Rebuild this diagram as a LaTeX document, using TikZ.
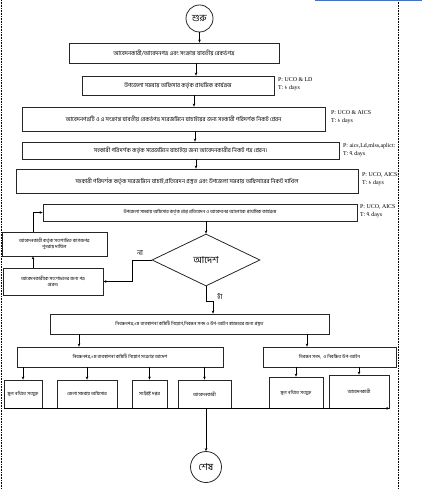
\documentclass[tikz,border=0pt]{standalone}
\usepackage{fontspec}
\newfontfamily\bn[Script=Bengali]{Hind Siliguri}
\newfontfamily\lat{Liberation Serif}
\usetikzlibrary{shapes.geometric,arrows.meta}
\begin{document}
\begin{tikzpicture}[x=1pt,y=-1pt,
  box/.style={draw=black!85,line width=0.8pt,inner sep=0pt,align=center,font=\bn\fontsize{5.8}{7}\selectfont},
  sbox/.style={box,font=\bn\fontsize{4.7}{6.5}\selectfont},
  arr/.style={line width=0.6pt,-{Stealth[length=3pt,width=2.6pt]}},
  lab/.style={anchor=north west,inner sep=0pt,align=left,font=\lat\fontsize{5.9}{8}\selectfont},
  term/.style={draw=black!85,line width=0.8pt,circle,inner sep=0pt,font=\bn\fontsize{9.5}{10}\selectfont}]
\useasboundingbox (0,0) rectangle (422,489);
% frame lines
\draw[line width=0.8pt,dash pattern=on 0.8pt off 0.8pt] (1.5,0) -- (1.5,489);
\draw[line width=0.8pt,dash pattern=on 0.8pt off 0.8pt] (398.5,0) -- (398.5,489);
\draw[line width=2pt,color={rgb,255:red,68;green,114;blue,196}] (315,0) -- (422,0);

\node[term,minimum size=27pt] (start) at (199.5,18.5) {শুরু};
\node[box,minimum width=210pt,minimum height=20pt] (b1) at (174,53) {আবেদনকারী/আবেদনপত্র এবং সংক্রান্ত যাবতীয় রেকর্ডপত্র};
\node[box,minimum width=192pt,minimum height=19pt] (b2) at (178,85.5) {উপজেলা সমবায় অফিসার কর্তৃক প্রাথমিক কার্যক্রম};
\node[box,minimum width=303pt,minimum height=24pt] (b3) at (173.5,119) {আবেদনপত্রটি ও এ সংক্রান্ত যাবতীয় রেকর্ডপত্র সরেজমিনে যাচাইয়ের জন্য সহকারী পরিদর্শক নিকট প্রেরন};
\node[box,minimum width=317pt,minimum height=17pt] (b4) at (180.5,150.5) {সহকারী পরিদর্শক কর্তৃক সরেজমিনে যাচাইয়ে জন্য আবেদনকারীর নিকট পত্র প্রেরন।};
\node[box,minimum width=342pt,minimum height=24pt] (b5) at (187,181) {সহকারী পরিদর্শক কর্তৃক সরেজমিনে যাচাই,প্রতিবেদন প্রস্তুত এবং উপজেলা সমবায় অফিসারের নিকট দাখিল};
\node[sbox,minimum width=314pt,minimum height=17pt] (b6) at (200,212.5) {উপজেলা সমবায় অফিসার কর্তৃক প্রাপ্ত প্রতিবেদন ও আবেদনের আলোকে প্রাথমিক কার্যক্রম};
\node[sbox,minimum width=105pt,minimum height=24pt] (b7) at (54.5,244) {আবেদনকারী কর্তৃক সংশোধিত কাগজপত্র\\পুনরায় দাখিল};
\node[sbox,minimum width=100pt,minimum height=27pt] (b8) at (53,281.5) {আবেদনকারীকে সংশোধনের জন্য পত্র\\প্রেরন।};
\node[draw=black!85,line width=0.8pt,diamond,inner sep=0pt,minimum width=108pt,minimum height=52pt,font=\bn\fontsize{9.5}{10}\selectfont] (dia) at (206,260) {আদেশ};
\node[sbox,minimum width=279pt,minimum height=20pt] (b9) at (189.5,324) {নিবন্ধনপত্র,১ম ব্যবস্থাপনা কমিটি নিয়োগ,নিবন্ধন সনদ ও উপ-আইন স্বাক্ষরের জন্য প্রস্তুত};
\node[sbox,minimum width=206pt,minimum height=20pt] (b10) at (120,357) {নিবন্ধনপত্র,১ম ব্যবস্থাপনা কমিটি নিয়োগ সংক্রান্ত আদেশ};
\node[sbox,minimum width=133pt,minimum height=20pt] (b11) at (329.5,357) {নিবন্ধন সনদ,\ \ ও নিবন্ধিত উপ-আইন};
\node[sbox,minimum width=38pt,minimum height=28pt] (c1) at (23,394) {মূল নথিতে সংযুক্ত};
\node[sbox,minimum width=60pt,minimum height=28pt] (c2) at (87,394) {জেলা সমবায় অফিসার};
\node[sbox,minimum width=35pt,minimum height=28pt] (c3) at (149.5,394) {সংশ্লিষ্ট দপ্তর};
\node[sbox,minimum width=53pt,minimum height=28pt] (c4) at (204.5,394) {আবেদনকারী};
\node[sbox,minimum width=54pt,minimum height=31pt] (c5) at (296,392.5) {মূল নথিতে সংযুক্ত};
\node[sbox,minimum width=60pt,minimum height=33pt] (c6) at (359,391.5) {আবেদনকারী};
\node[term,minimum size=31pt] (fin) at (206,467) {শেষ};

% labels
\node[lab] (l2) at (278,77) {P: UCO \& LD\\T: {\bn ১} days};
\node[lab] (l3) at (331,110) {P: UCO \& AICS\\T: {\bn ১} days};
\node[lab] (l4) at (343,143) {P: aics,Ld,mlss,aplict:\\T: {\bn ৭} days};
\node[lab] (l5) at (362,172) {P: UCO, AICS:\\T: {\bn ১} days};
\node[lab] (l6) at (360,204) {P: UCO, AICS\\T: {\bn ৭} days};
\node[inner sep=0pt,font=\bn\fontsize{7}{8}\selectfont] (no) at (140,253) {না};
\node[inner sep=0pt,font=\bn\fontsize{7}{8}\selectfont] (yes) at (220,297) {হাঁ};

% connectors
\draw[arr] (start) -- (start |- b1.north);
\draw[arr] ([xshift=22pt]b1.south) -- ([xshift=22pt]b1.south |- b2.north);
\draw[arr] ([xshift=16pt]b2.south) -- ([xshift=16pt]b2.south |- b3.north);
\draw[arr] ([xshift=21.5pt]b3.south) -- ([xshift=21.5pt]b3.south |- b4.north);
\draw[arr] ([xshift=15.5pt]b4.south) -- ([xshift=15.5pt]b4.south |- b5.north);
\draw[arr] (b6.south -| dia.north) -- (dia.north);
\draw[arr] (dia.west) -- ++(-19,0) |- (b8.east);
\draw[arr] ([xshift=-20pt]b8.north) -- ([xshift=-20pt]b8.north |- b7.south);
\draw[arr] ([xshift=-21.5pt]b7.north) |- (b6.west);
\draw[arr] (dia.south) -- ++(0,15) -| ([xshift=23.5pt]b9.north);
\draw[arr] ([xshift=-110.5pt]b9.south) -- ([xshift=-110.5pt]b9.south |- b10.north);
\draw[arr] ([xshift=117.5pt]b9.south) -- ([xshift=117.5pt]b9.south |- b11.north);
\foreach \c in {c1,c2,c3,c4} \draw[arr] (\c.north |- b10.south) -- (\c.north);
\foreach \c in {c5,c6} \draw[arr] (\c.north |- b11.south) -- (\c.north);
\draw[arr] (c1.south west) -- (c6.south east);
\coordinate (j) at (206,408);
\draw[arr] (j) -- (fin);
\end{tikzpicture}
\end{document}
